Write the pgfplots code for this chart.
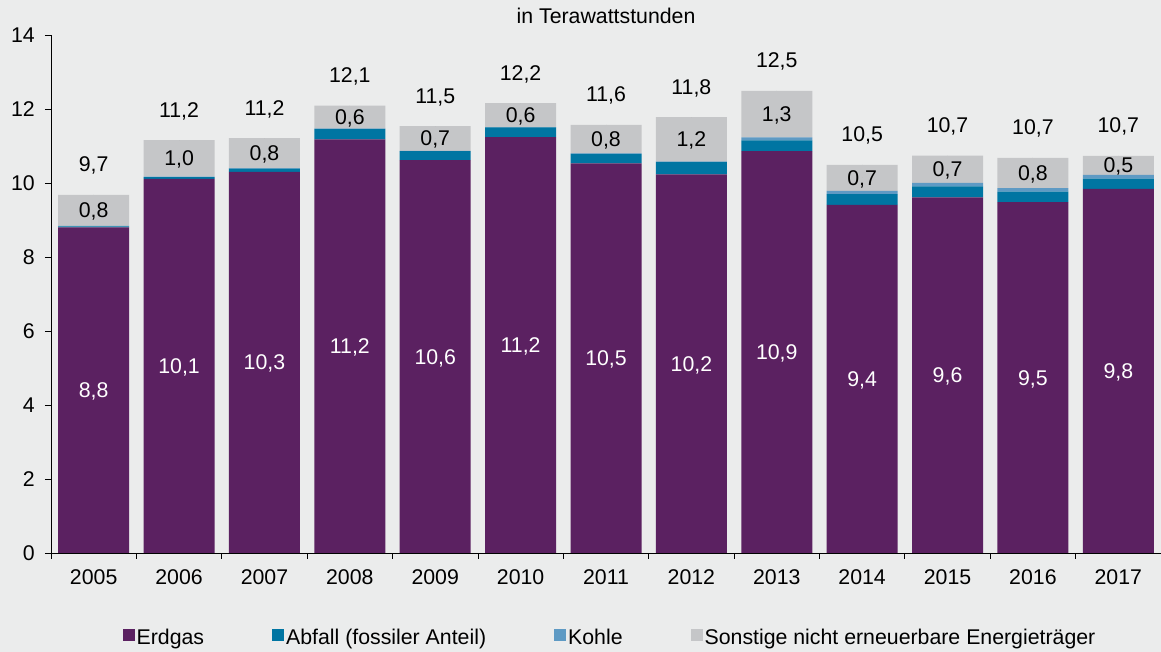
\documentclass[border=0pt]{standalone}
\usepackage{pgfplots}
\usepackage{pgfplotstable}
\pgfplotsset{compat=1.18}
\usepackage{fontspec}
\setmainfont{Liberation Sans}
\definecolor{bg}{HTML}{EBECEC}
\definecolor{erdgas}{HTML}{5B2161}
\definecolor{abfall}{HTML}{0075A2}
\definecolor{kohle}{HTML}{5E9AC4}
\definecolor{sonst}{HTML}{C5C6C8}
\newcommand\f{\fontsize{21.3}{25}\selectfont}

\pgfplotstableread{
x erdgas abfall kohle sonst
0  8.80 0.03 0.01 0.84
1 10.11 0.05 0.01 0.99
2 10.30 0.09 0.01 0.81
3 11.18 0.28 0.01 0.62
4 10.62 0.24 0.01 0.67
5 11.24 0.26 0.01 0.65
6 10.53 0.26 0.01 0.77
7 10.23 0.34 0.01 1.20
8 10.86 0.29 0.08 1.26
9  9.41 0.29 0.09 0.70
10 9.61 0.30 0.09 0.74
11 9.48 0.29 0.09 0.82
12 9.84 0.28 0.10 0.51
}\data

\pgfplotstableread{
x ye le ys ls yt lt
0  4.400 8,8  9.260 0,8  9.68 9,7
1  5.055 10,1 10.665 1,0 11.16 11,2
2  5.150 10,3 10.805 0,8 11.21 11,2
3  5.590 11,2 11.780 0,6 12.09 12,1
4  5.310 10,6 11.205 0,7 11.54 11,5
5  5.620 11,2 11.835 0,6 12.16 12,2
6  5.265 10,5 11.185 0,8 11.57 11,6
7  5.115 10,2 11.180 1,2 11.78 11,8
8  5.430 10,9 11.860 1,3 12.49 12,5
9  4.705 9,4  10.140 0,7 10.49 10,5
10 4.805 9,6  10.370 0,7 10.74 10,7
11 4.740 9,5  10.270 0,8 10.68 10,7
12 4.920 9,8  10.475 0,5 10.73 10,7
}\labels

\pgfplotsset{
  common/.style={
    scale only axis, width=1110pt, height=518pt,
    at={(51pt,99pt)}, anchor=south west,
    xmin=-0.5, xmax=12.5, ymin=0, ymax=14, clip=false,
  },
  lbl/.style={only marks, mark=*, mark size=0pt, mark options={draw=none, fill=none},
    point meta=explicit symbolic, nodes near coords,
    nodes near coords style={font=\f, anchor=base, inner sep=0pt}},
}

\begin{document}
\f
\begin{tikzpicture}
\fill[bg] (0,0) rectangle (1161pt,652pt);
\useasboundingbox (0,0) rectangle (1161pt,652pt);
\begin{axis}[
  common,
  ybar stacked, bar width=71pt,
  axis x line*=bottom, axis y line*=left,
  axis line style={black, line width=0.8pt},
  tick align=outside,
  ytick={0,2,...,14},
  xtick={0,...,12},
  xticklabels={2005,2006,2007,2008,2009,2010,2011,2012,2013,2014,2015,2016,2017},
  minor xtick={-0.5,0.5,...,12.5},
  major x tick style={draw=none},
  minor x tick style={black, line width=0.8pt},
  major y tick style={black, line width=0.8pt},
  major tick length=6pt, minor tick length=6pt,
  /pgf/number format/assume math mode=true,
  tick label style={font=\f},
  xticklabel style={anchor=base, yshift=-26pt},
  yticklabel style={xshift=-3pt},
  title={in Terawattstunden},
  title style={at={(0.5,1)}, anchor=base, yshift=5pt, font=\f, inner sep=0pt},
  legend columns=4,
  legend style={draw=none, fill=none, font=\f, at={(0.5036,-0.165)}, anchor=center,
    /tikz/every even column/.append style={column sep=66pt},
    nodes={inner xsep=2pt}},
  legend image code/.code={\fill[#1] (0pt,-3pt) rectangle (12pt,9pt);},
]
\addplot[fill=erdgas, draw=none] table[x=x, y=erdgas] {\data};
\addplot[fill=abfall, draw=none] table[x=x, y=abfall] {\data};
\addplot[fill=kohle, draw=none] table[x=x, y=kohle] {\data};
\addplot[fill=sonst, draw=none] table[x=x, y=sonst] {\data};
\legend{Erdgas, Abfall (fossiler Anteil), Kohle, Sonstige nicht erneuerbare Energieträger}
\end{axis}
\begin{axis}[common, hide axis]
\addplot[lbl, nodes near coords style={text=white, yshift=-7.5pt}] table[x=x, y=ye, meta=le] {\labels};
\addplot[lbl, nodes near coords style={text=black, yshift=-7.5pt}] table[x=x, y=ys, meta=ls] {\labels};
\addplot[lbl, nodes near coords style={text=black, yshift=23pt}] table[x=x, y=yt, meta=lt] {\labels};
\end{axis}
\end{tikzpicture}
\end{document}
